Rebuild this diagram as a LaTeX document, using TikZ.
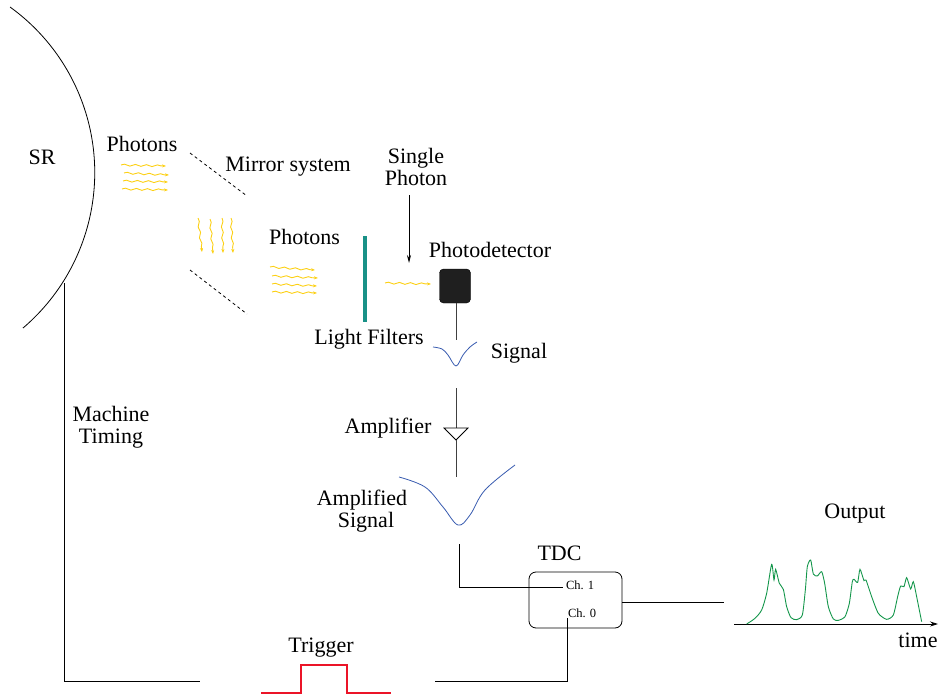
\documentclass[tikz,border=0pt]{standalone}
\usepackage{fontspec}
\setmainfont{Liberation Serif}
\usetikzlibrary{arrows.meta,positioning}
\usetikzlibrary{decorations.pathmorphing}
\definecolor{photon}{RGB}{252,208,20}
\definecolor{filterteal}{RGB}{25,145,135}
\definecolor{pulseblue}{RGB}{55,90,175}
\definecolor{outgreen}{RGB}{20,150,75}
\definecolor{gatered}{RGB}{235,20,40}
\tikzset{
  label/.style={inner sep=0pt,outer sep=0pt,font=\fontsize{22}{24}\selectfont,align=center},
  chan/.style={inner sep=0pt,outer sep=0pt,font=\fontsize{12.5}{14}\selectfont},
  wire/.style={draw=black,line width=0.8pt},
  wave/.style={draw=photon,line width=0.9pt,-{Stealth[length=4pt,width=3pt]},
    decorate,decoration={snake,amplitude=0.9pt,segment length=11pt,post length=3pt}},
}
\begin{document}
\begin{tikzpicture}[x=1pt,y=-1pt]
\useasboundingbox (0,0) rectangle (943,696);
% trigger pulse
\coordinate (p1) at (261,693);
\coordinate (p2) at (301,693);
\coordinate (p3) at (301,665);
\coordinate (p4) at (347,665);
\coordinate (p5) at (347,693);
\coordinate (p6) at (391,693);
\begin{scope}[color=gatered]
\draw[line width=1.2pt] plot coordinates {(p1) (p2) (p3) (p4) (p5) (p6)};
\end{scope}
% synchrotron ring
\coordinate (ring) at (10,7);
\draw[wire] (ring) arc[start angle=-54.2,end angle=49.6,radius=204.2];
\node[label] (sr) at (42,157) {SR};
\node[label] (ph1) at (142,143.5) {Photons};
\node[label] (mirror) at (288,167) {Mirror system};
\node[label] (ph2) at (304.5,237) {Photons};
\node[label] (single) at (416,167) {Single\\[-2pt]Photon};
\node[label] (pd) at (490,250) {Photodetector};
\node[label] (lf) at (369,339) {Light Filters};
\node[label] (sig) at (519,353) {Signal};
\node[label] (amp) at (388,428) {Amplifier};
\node[label] (asig1) at (362,500) {Amplified};
\node[label] (asig2) at (366,522) {Signal};
\node[label] (timing) at (111,427) {Machine\\[-2pt]Timing};
\node[label] (out) at (855,514) {Output};
\node[label] (tdclab) at (559.5,553) {TDC};
\node[label] (trg) at (321,648) {Trigger};
\node[label] (tm) at (918,640) {time};
% mirrors and filter
\coordinate (ma1) at (190,153);
\coordinate (ma2) at (247,196);
\coordinate (mb1) at (190,270);
\coordinate (mb2) at (247,314);
\draw[wire,dashed] (ma1) -- (ma2);
\draw[wire,dashed] (mb1) -- (mb2);
\draw[draw=filterteal,line width=4pt] (365,236) -- (365,322);
% photons
\foreach \xa/\ya/\xb/\yb in {121/165/166/166,124/173/169/175,123/181/168/182,122/189/168/190,
  270/267/315/270,272/276/318/278,272/284/317/286,272/292/317/293,
  198/218/202/252,210/219/213/254,222/218/223/253,231/218/233/253,385/283/431/284}
  \draw[wave] (\xa,\ya) -- (\xb,\yb);
% detector chain
\node[draw=black,fill=black!88,rounded corners=4pt,minimum width=31pt,minimum height=34pt,inner sep=0pt,outer sep=0pt] (det) at (455,286) {};
\coordinate (sp1) at (409,195);
\coordinate (sp2) at (409,263);
\draw[wire,-{Stealth[length=8pt,width=4pt]}] (sp1) -- (sp2);
\coordinate (d1) at (456,340);
\draw[wire,black!75] (det.south -| d1) -- (d1);
\draw[pulseblue,line width=0.8pt] plot[smooth,tension=0.6] coordinates {(433,347) (442,349) (448,355) (456,366) (463,355) (470,347) (477,342)};
% amplifier
\coordinate (a1) at (456,388);
\coordinate (a2) at (456,428);
\coordinate (a3) at (444,428);
\coordinate (a4) at (468,428);
\coordinate (a5) at (456,440);
\coordinate (a6) at (456,477);
\draw[wire,black!75] (a1) -- (a2);
\draw[wire] (a3) -- (a4) -- (a5) -- cycle;
\draw[wire,black!75] (a5) -- (a6);
\draw[pulseblue,line width=0.8pt] plot[smooth,tension=0.6] coordinates {(399,477) (425,487) (443,507) (458,525) (470,515) (485,490) (515,465)};
% TDC
\node[draw=black,rounded corners=7pt,minimum width=93pt,minimum height=56pt,inner sep=0pt,outer sep=0pt,line width=0.8pt] (tdc) at (575.5,600) {};
\node[chan,anchor=west] (ch1) at (566,585) {Ch. 1};
\node[chan,anchor=west] (ch0) at (568,613.5) {Ch. 0};
\coordinate (s1) at (459,544);
\coordinate (s2) at (459,587);
\coordinate (s3) at (563,587);
\draw[wire] (s1) -- (s2) -- (s3);
\coordinate (t1) at (64,283);
\coordinate (t2) at (64,681);
\coordinate (t3) at (200,681);
\draw[wire] (t1) -- (t2) -- (t3);
\coordinate (t4) at (435,681);
\coordinate (t5) at (567,681);
\coordinate (t6) at (567,618);
\draw[wire] (t4) -- (t5) -- (t6);
% output
\coordinate (o1) at (724,602);
\draw[wire] ([yshift=-2pt]tdc.east) -- (o1);
\coordinate (ax1) at (734,624);
\coordinate (ax2) at (938,624);
\draw[wire,-{Stealth[length=8pt,width=5pt]}] (ax1) -- (ax2);
\begin{scope}[shift={(730,550)},x=0.3333pt,y=-0.3333pt]
\draw[outgreen,line width=0.9pt] plot[smooth,tension=0.4] coordinates {(50,222) (75,205) (95,180) (110,130) (125,43) (132,90) (137,58) (148,100) (160,118) (170,170) (183,203) (200,209) (217,195) (226,120) (232,50) (242,30) (250,72) (262,78) (275,65) (284,100) (295,170) (310,207) (325,211) (345,200) (358,160) (367,95) (372,88) (383,97) (390,58) (402,92) (408,90) (425,140) (445,190) (470,208) (490,195) (503,140) (512,108) (522,110) (530,83) (542,117) (550,95) (560,140) (575,215)};
\end{scope}
\end{tikzpicture}
\end{document}
